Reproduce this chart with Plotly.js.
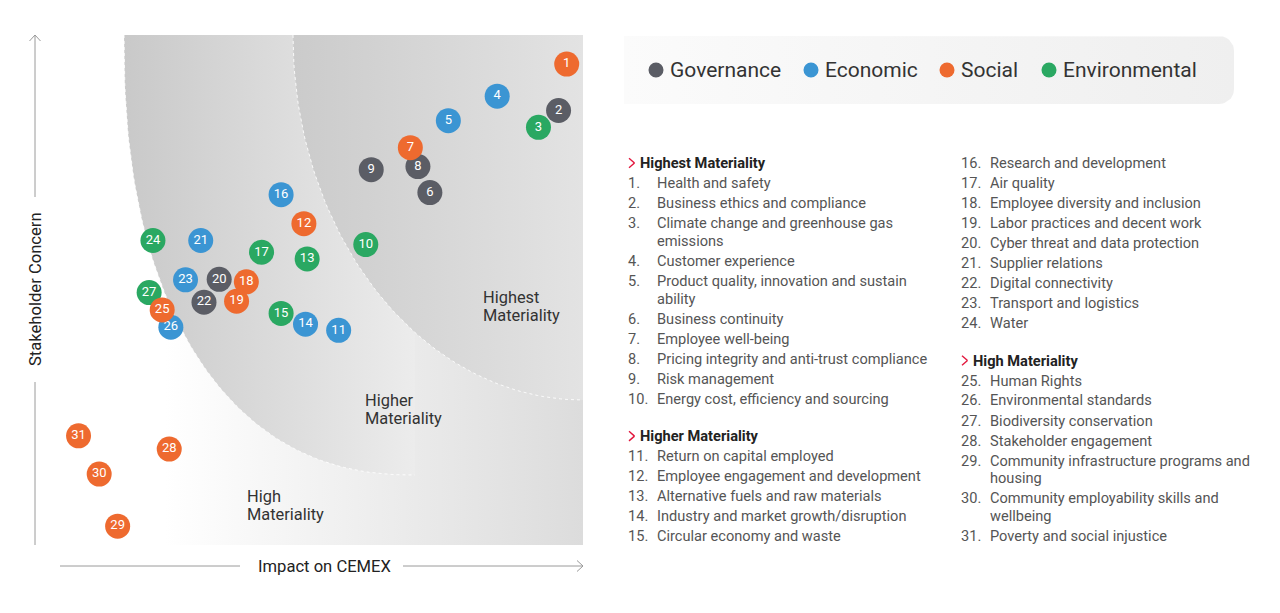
<!DOCTYPE html>
<html><head><meta charset="utf-8">
<script src="https://cdn.plot.ly/plotly-3.0.1.min.js"></script>
<style>html,body{margin:0;padding:0;background:#fff}#chart{width:1280px;height:613px}</style>
</head><body><div id="chart"></div>
<script>
// ---------------- DATA ----------------
const topicIds = [1,2,3,4,5,6,7,8,9,10,11,12,13,14,15,16,17,18,19,20,21,22,23,24,25,26,27,28,29,30,31];
const impactOnCemex = [97.0,95.5,91.8,84.2,75.2,71.8,68.2,69.6,61.0,60.0,55.0,48.6,49.2,48.9,44.4,44.4,40.8,38.0,36.2,33.0,29.6,30.2,26.8,20.8,22.5,24.1,20.1,23.8,14.3,10.9,7.1];
const stakeholderConcern = [94.3,85.2,81.9,88.0,83.2,69.1,77.9,74.2,73.6,58.9,42.1,63.0,56.1,43.3,45.4,68.7,57.4,51.6,47.8,52.1,59.7,47.6,52.0,59.7,46.1,42.7,49.5,18.8,3.7,13.9,21.4];
const topicCategory = ['Social','Governance','Environmental','Economic','Economic','Governance','Social','Governance','Governance','Environmental',
  'Economic','Social','Environmental','Economic','Environmental','Economic','Environmental','Social','Social','Governance',
  'Economic','Governance','Economic','Environmental','Social','Economic','Environmental','Social','Social','Social','Social'];
const categories = ['Governance','Economic','Social','Environmental'];
const categoryColors = ['#5b5d65','#3b95d3','#ee6a2f','#2aa862'];
const drawOrder = ['Governance','Economic','Environmental','Social'];
const topicNames = [
  'Health and safety','Business ethics and compliance','Climate change and greenhouse gas\nemissions','Customer experience',
  'Product quality, innovation and sustain\nability','Business continuity','Employee well-being','Pricing integrity and anti-trust compliance',
  'Risk management','Energy cost, efficiency and sourcing','Return on capital employed','Employee engagement and development',
  'Alternative fuels and raw materials','Industry and market growth/disruption','Circular economy and waste','Research and development',
  'Air quality','Employee diversity and inclusion','Labor practices and decent work','Cyber threat and data protection',
  'Supplier relations','Digital connectivity','Transport and logistics','Water','Human Rights','Environmental standards',
  'Biodiversity conservation','Stakeholder engagement','Community infrastructure programs and\nhousing',
  'Community employability skills and\nwellbeing','Poverty and social injustice'];
const groupTitles = ['Highest Materiality','Higher Materiality','High Materiality'];
const regionLabels = ['Highest','Higher','High'];
const xAxisTitle = 'Impact on CEMEX';
const yAxisTitle = 'Stakeholder Concern';

// ---------------- LAYOUT HELPERS ----------------
const W = 1280, H = 613;
const PL = 40, PR = 583, PT = 35, PB = 545;
const px = v => v / W;
const py = v => 1 - v / H;
const dx = v => (v - PL) / (PR - PL) * 100;
const FONT = 'Roboto, "Open Sans", sans-serif';
const PADX = 2; // annotation inner padding compensation

function superEllipse(cx, cy, rx, ry, n, steps) {
  const xs = [], ys = [];
  for (let i = 0; i <= steps; i++) {
    const t = (Math.PI / 2) * i / steps;
    xs.push(cx - rx * Math.pow(Math.cos(t), 2 / n));
    ys.push(cy - ry * Math.pow(Math.sin(t), 2 / n));
  }
  return {xs, ys};
}

const traces = [];
// High region (lightest)
traces.push({
  x: [dx(124), 100, 100, dx(124), dx(124)], y: [100, 100, 0, 0, 100],
  mode: 'lines', fill: 'toself', line: {width: 0}, hoverinfo: 'skip', showlegend: false,
  fillgradient: {type: 'horizontal', start: dx(165), stop: 100, colorscale: [[0, '#ffffff'], [1, '#dcdcdc']]}
});
// Higher region
const hi2 = superEllipse(dx(415), 100, 291 / 5.43, 440 / 5.1, 2.3, 80);
traces.push({
  x: hi2.xs.concat([dx(415), hi2.xs[0]]), y: hi2.ys.concat([100, hi2.ys[0]]),
  mode: 'lines', fill: 'toself', line: {width: 0}, hoverinfo: 'skip', showlegend: false,
  fillgradient: {type: 'horizontal', start: dx(124), stop: dx(415), colorscale: [[0, '#c9c9c9'], [1, '#ececec']]}
});
traces.push({x: hi2.xs, y: hi2.ys, mode: 'lines', line: {color: 'rgba(255,255,255,0.85)', width: 1, dash: 'dot'}, hoverinfo: 'skip', showlegend: false});
// Highest region
const hi3 = superEllipse(100, 100, 290 / 5.43, 365 / 5.1, 2, 80);
traces.push({
  x: hi3.xs.concat([100, hi3.xs[0]]), y: hi3.ys.concat([100, hi3.ys[0]]),
  mode: 'lines', fill: 'toself', line: {width: 0}, hoverinfo: 'skip', showlegend: false,
  fillgradient: {type: 'horizontal', start: dx(293), stop: 100, colorscale: [[0, '#cbcbcb'], [1, '#e3e3e3']]}
});
traces.push({x: hi3.xs, y: hi3.ys, mode: 'lines', line: {color: 'rgba(255,255,255,0.85)', width: 1, dash: 'dot'}, hoverinfo: 'skip', showlegend: false});

// Legend box background (pixel axes x2/y2)
(function () {
  const x0 = 624, x1 = 1234, y0 = 36, y1 = 104, r = 15, xs = [x0], ys = [y0];
  for (let i = 0; i <= 12; i++) { const t = -Math.PI / 2 + (Math.PI / 2) * i / 12; xs.push(x1 - r + r * Math.cos(t)); ys.push(y0 + r + r * Math.sin(t)); }
  for (let i = 0; i <= 12; i++) { const t = (Math.PI / 2) * i / 12; xs.push(x1 - r + r * Math.cos(t)); ys.push(y1 - r + r * Math.sin(t)); }
  xs.push(x0, x0); ys.push(y1, y0);
  traces.push({x: xs, y: ys, xaxis: 'x2', yaxis: 'y2', mode: 'lines', fill: 'toself', line: {width: 0}, hoverinfo: 'skip', showlegend: false,
    fillgradient: {type: 'horizontal', start: x0, stop: x1, colorscale: [[0, '#fbfbfb'], [1, '#efefef']]}});
})();

// Topic bubbles
drawOrder.forEach(cat => {
  const idx = topicIds.map((_, i) => i).filter(i => topicCategory[i] === cat);
  traces.push({
    type: 'scatter', mode: 'markers+text', name: cat, showlegend: false,
    x: idx.map(i => impactOnCemex[i]), y: idx.map(i => stakeholderConcern[i]),
    text: idx.map(i => String(topicIds[i])),
    hovertext: idx.map(i => topicIds[i] + '. ' + topicNames[i].replace('\n', ' ')), hoverinfo: 'text',
    textposition: 'middle center', textfont: {color: '#ffffff', size: 13, family: FONT},
    marker: {size: 25, color: categoryColors[categories.indexOf(cat)], line: {width: 0}}
  });
});

// ---------------- SHAPES & ANNOTATIONS ----------------
const shapes = [];
const annotations = [];
const gray = '#9a9a9a';
function seg(x0, y0, x1, y1, color, w) {
  shapes.push({type: 'line', xref: 'paper', yref: 'paper', x0: px(x0), y0: py(y0), x1: px(x1), y1: py(y1), line: {color: color, width: w}});
}
function label(x, y, text, size, color, anchor, extra) {
  annotations.push(Object.assign({xref: 'paper', yref: 'paper', x: px(anchor === 'left' ? x - PADX : x), y: py(y), text: text, showarrow: false,
    xanchor: anchor, yanchor: 'middle', font: {size: size, color: color, family: FONT}}, extra || {}));
}
// axis arrows
seg(35, 35, 35, 197, gray, 1); seg(35, 382, 35, 545, gray, 1);
seg(29.5, 41, 35, 35, gray, 1); seg(35, 35, 40.5, 41, gray, 1);
seg(60, 566, 240, 566, gray, 1); seg(403, 566, 583, 566, gray, 1);
seg(577, 560.5, 583, 566, gray, 1); seg(583, 566, 577, 571.5, gray, 1);
label(35, 289, yAxisTitle, 16.6, '#222', 'center', {textangle: -90});
label(324, 566, xAxisTitle, 16.6, '#222', 'center');

// region labels
const regionPos = [[483, 297], [365, 400], [247, 496]];
regionLabels.forEach((lab, i) => {
  [lab, 'Materiality'].forEach((t, k) => label(regionPos[i][0], regionPos[i][1] + k * 18.5, t, 16.4, '#333', 'left'));
});

// legend items
const legendX = [656, 811, 947, 1049];
categories.forEach((cat, i) => {
  const cx = legendX[i], cy = 70, r = 7.5;
  shapes.push({type: 'circle', xref: 'paper', yref: 'paper', x0: px(cx - r), x1: px(cx + r), y0: py(cy - r), y1: py(cy + r),
    fillcolor: categoryColors[i], line: {width: 0}});
  label(cx + 14, cy, cat, 21, '#333', 'left');
});

// topic list
const columns = [
  {numX: 628, textX: 657, entries: [{h: 0}].concat(topicIds.slice(0, 10)).concat([{h: 1}]).concat(topicIds.slice(10, 15))},
  {numX: 961, textX: 990, entries: topicIds.slice(15, 24).concat([{h: 2}]).concat(topicIds.slice(24, 31))}
];
const red = '#e2173d';
const LS = 14.6;
columns.forEach(col => {
  let y = 163;
  col.entries.forEach((e, k) => {
    if (typeof e === 'object') {
      if (k > 0) y += 17.5;
      const cx = col.numX + 1;
      seg(cx, y - 4.8, cx + 5.5, y, red, 1.4); seg(cx + 5.5, y, cx, y + 4.8, red, 1.4);
      label(col.numX + 12, y, '<b>' + groupTitles[e.h] + '</b>', LS, '#222', 'left');
      y += 20;
    } else {
      label(col.numX, y, e + '.', LS, '#555', 'left');
      topicNames[e - 1].split('\n').forEach((ln, j) => {
        if (j > 0) y += 17.8;
        label(col.textX, y, ln, LS, '#555', 'left');
      });
      y += 20;
    }
  });
});

const layout = {
  width: W, height: H, margin: {l: 0, r: 0, t: 0, b: 0, pad: 0},
  paper_bgcolor: '#ffffff', plot_bgcolor: 'rgba(0,0,0,0)',
  xaxis: {domain: [px(PL), px(PR)], range: [0, 100], visible: false, fixedrange: true},
  yaxis: {domain: [py(PB), py(PT)], range: [0, 100], visible: false, fixedrange: true},
  xaxis2: {domain: [0, 1], range: [0, W], visible: false, fixedrange: true, anchor: 'y2'},
  yaxis2: {domain: [0, 1], range: [H, 0], visible: false, fixedrange: true, anchor: 'x2'},
  showlegend: false, shapes: shapes, annotations: annotations, font: {family: FONT},
  hovermode: 'closest'
};
Plotly.newPlot('chart', traces, layout, {displayModeBar: false});
</script></body></html>
